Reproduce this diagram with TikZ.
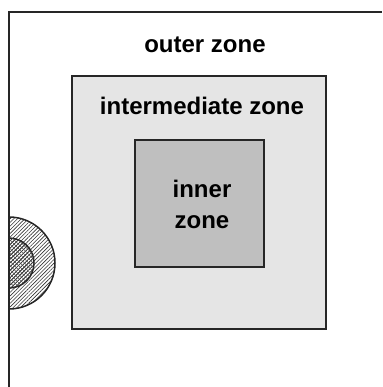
\documentclass[tikz,border=0pt]{standalone}
\usepackage{fontspec}
\setmainfont{Liberation Sans}
\usetikzlibrary{patterns.meta}
\tikzset{
	zone/.style={draw=black!85, line width=.75pt},
	zonelabel/.style={font=\fontsize{12}{15.5}\selectfont\bfseries, align=center, anchor=base, inner sep=0pt},
	hatch/.style={pattern={Lines[angle=45,distance=1.3pt,line width=.3pt]}, pattern color=black!80},
	crosshatch/.style={pattern={Lines[angle=-45,distance=1.5pt,line width=.25pt]}, pattern color=black!70}
}
\begin{document}
\begin{tikzpicture}[x=.5pt, y=-.5pt]
	\useasboundingbox (0,0) rectangle (382,387);
	\clip (0,0) rectangle (382,387);
	% outer zone, open to the right and below
	\draw[zone] (9,12) rectangle (400,400);
	\node[zonelabel] (outerlbl) at (205,52) {outer zone};
	
	% intermediate and inner zones
	\draw[zone, fill=black!10] (72,76) rectangle (326,329);
	\node[zonelabel] (midlbl) at (202,114) {intermediate zone};
	\draw[zone, fill=black!25] (135,140) rectangle (264,267);
	\node[zonelabel] (innerlbl) at (202,228) {inner\\zone};
	
	% half disks on the left edge
	\begin{scope}
		\clip (9,200) rectangle (80,330);
		\draw[zone, fill=white, hatch] (9,263) circle[radius=23pt];
		\draw[zone, fill=white, hatch] (9,263) circle[radius=12.5pt];
		\fill[crosshatch] (9,263) circle[radius=12.5pt];
	\end{scope}
	\draw[zone] (9,12)--(9,400);
\end{tikzpicture}
\end{document}
